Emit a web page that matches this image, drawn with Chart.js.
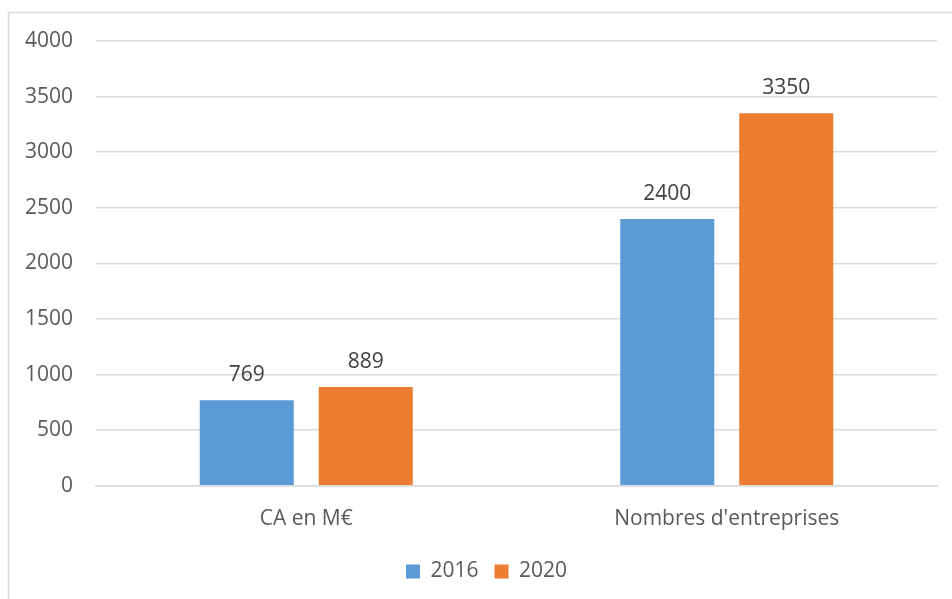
<!DOCTYPE html>
<html>
<head>
    <title>CA et entreprises</title>
    <meta charset="utf-8">
    <script src="https://cdn.jsdelivr.net/npm/chart.js"></script>
    <style>
        html, body { margin: 0; padding: 0; background: #fff; }
        #wrap { width: 952px; height: 599px; }
    </style>
</head>
<body>
    <div id="wrap"><canvas id="chart"></canvas></div>
    <script>
        const categories = ["CA en M€", "Nombres d'entreprises"];
        const seriesNames = ["2016", "2020"];
        const values2016 = [769, 2400];
        const values2020 = [889, 3350];
        const seriesColors = ["#5B9BD5", "#ED7D31"];

        const FONT = "'Open Sans', sans-serif";
        const FS = 21;

        // chart frame like the office export
        const framePlugin = {
            id: "frame",
            beforeDraw(chart) {
                const ctx = chart.ctx;
                ctx.save();
                ctx.fillStyle = "#fff";
                ctx.fillRect(0, 0, chart.width, chart.height);
                ctx.strokeStyle = "#d9d9d9";
                ctx.lineWidth = 1.5;
                ctx.strokeRect(8.5, 12.5, 2000, 2000);
                ctx.restore();
            }
        };

        // the original frame runs past the right edge, so its legend sits a bit right of centre
        const legendShift = {
            id: "legendShift",
            afterLayout(chart) {
                if (chart.legend) {
                    chart.legend.left += 14;
                    chart.legend.right += 14;
                }
            }
        };

        // value labels above bars
        const valueLabels = {
            id: "valueLabels",
            afterDatasetsDraw(chart) {
                const ctx = chart.ctx;
                ctx.save();
                ctx.font = FS + "px " + FONT;
                ctx.fillStyle = "#404040";
                ctx.textAlign = "center";
                ctx.textBaseline = "middle";
                chart.data.datasets.forEach((ds, i) => {
                    chart.getDatasetMeta(i).data.forEach((bar, j) => {
                        ctx.fillText(ds.data[j], bar.x, bar.y - 25);
                    });
                });
                ctx.restore();
            }
        };

        new Chart(document.getElementById("chart"), {
            type: "bar",
            data: {
                labels: categories,
                datasets: [
                    { label: seriesNames[0], data: values2016, backgroundColor: seriesColors[0] },
                    { label: seriesNames[1], data: values2020, backgroundColor: seriesColors[1] }
                ]
            },
            options: {
                responsive: true,
                maintainAspectRatio: false,
                animation: false,
                categoryPercentage: 0.566,
                barPercentage: 0.79,
                layout: { padding: { left: 8, right: 15, top: 41, bottom: 7 } },
                plugins: {
                    tooltip: { enabled: false },
                    legend: {
                        position: "bottom",
                        labels: {
                            boxWidth: 14,
                            boxHeight: 14,
                            padding: 16,
                            color: "#595959",
                            font: { family: FONT, size: FS }
                        }
                    }
                },
                scales: {
                    x: {
                        grid: { display: false },
                        border: { color: "#d9d9d9", width: 1.5 },
                        ticks: { color: "#595959", padding: 13, font: { family: FONT, size: FS } }
                    },
                    y: {
                        min: 0,
                        max: 4000,
                        border: { display: false },
                        grid: { color: "#d9d9d9", lineWidth: 1.5, drawTicks: false },
                        ticks: {
                            stepSize: 500,
                            color: "#595959",
                            padding: 23,
                            font: { family: FONT, size: FS },
                            callback: v => String(v)
                        },
                        afterFit(scale) { scale.width = 88; }
                    }
                }
            },
            plugins: [framePlugin, legendShift, valueLabels]
        });
    </script>
</body>
</html>
